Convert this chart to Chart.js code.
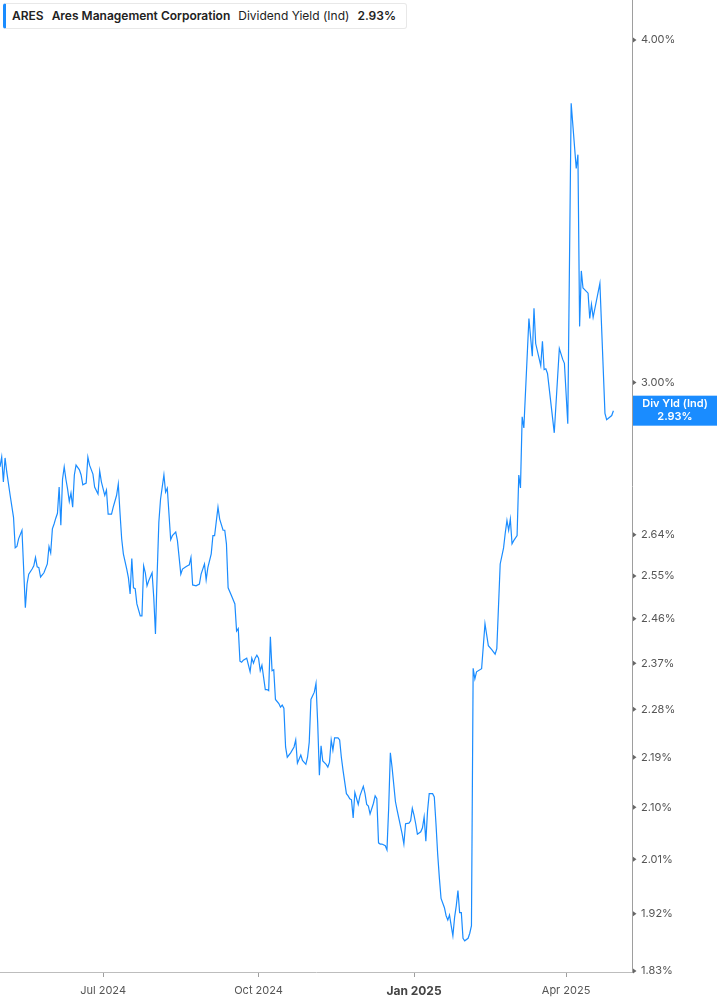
<!DOCTYPE html>
<html>
<head>
<meta charset="utf-8">
<script src="https://cdn.jsdelivr.net/npm/chart.js@4.4.1/dist/chart.umd.min.js"></script>
<style>
  html, body { margin: 0; padding: 0; background: #fff; }
  #wrap { position: relative; width: 717px; height: 1005px; }
  #head {
    position: absolute; left: 3px; top: 3px; height: 26px; width: 404px;
    box-sizing: border-box; border: 1px solid #e8e8e8; border-left: 3px solid #1a8cff;
    border-radius: 3px; background: #fff;
    font-family: Inter, "Noto Sans", sans-serif; font-size: 12px; color: #222;
    line-height: 24px; padding-left: 6px; white-space: nowrap;
  }
  #head span { margin-right: 8px; }
  #head b { font-weight: 600; }
</style>
</head>
<body>
<div id="wrap">
  <canvas id="chartDiv" width="717" height="1005"></canvas>
  <div id="head"><span><b>ARES</b></span><span><b>Ares Management Corporation</b></span><span>Dividend Yield (Ind)</span><span><b>2.93%</b></span></div>
</div>
<script>
// days since 2024-07-01
var dayOffsets = [-61,-60,-59,-58,-57,-55,-53,-52,-51,-50,-48,-46,-45,-44,-42,-41,-40,-39,-38,-37,-35,-33,-32,-31,-30,-29,-28,-27,-26,-25,-24,-23,-22,-21,-20,-19,-18,-17,-16,-14,-13,-12,-10,-9,-8,-6,-5,-3,-2,-1,
  1,2,3,5,6,8,9,10,11,12,14,15,16,17,18,19,20,22,23,24,25,26,27,29,30,31,32,33,34,36,37,38,40,41,43,44,46,47,49,50,51,52,53,55,57,58,60,61,62,64,65,66,68,69,71,72,73,74,76,78,79,80,81,82,83,85,87,88,89,90,91,92,93,94,96,97,98,99,100,101,102,104,105,106,107,108,109,111,113,114,115,117,118,120,121,122,123,125,126,127,128,129,130,132,133,134,135,136,137,139,140,141,142,144,145,146,147,148,149,151,152,154,155,156,157,158,160,161,162,163,164,165,167,168,169,170,171,173,174,175,177,178,179,181,182,183,184,185,186,188,189,190,191,192,193,195,196,197,198,199,200,202,203,204,205,206,207,208,209,210,211,212,213,214,216,217,218,
  219,220,221,224,226,228,230,232,233,235,237,238,239,240,241,242,243,245,246,247,248,249,252,254,255,256,259,260,261,262,263,267,270,272,273,275,277,280,281,282,283,284,287,288,289,290,294,297,298,301,302];

// dividend yield, %
var divYield = [2.795,2.818,2.760,2.816,2.783,2.729,2.679,2.611,2.614,2.631,2.650,2.483,2.533,2.554,2.565,2.572,2.590,2.570,2.568,2.548,2.557,2.576,2.614,2.600,2.653,2.664,2.677,2.688,2.748,2.661,2.766,2.795,2.766,2.743,2.715,2.734,2.702,2.776,2.799,2.788,2.776,2.753,2.757,2.818,2.799,2.778,2.748,2.732,2.785,2.760,
  2.729,2.741,2.686,2.686,2.702,2.729,2.755,2.690,2.631,2.598,2.565,2.546,2.512,2.588,2.525,2.523,2.491,2.466,2.466,2.572,2.557,2.529,2.540,2.557,2.504,2.429,2.554,2.668,2.720,2.776,2.736,2.745,2.629,2.638,2.646,2.627,2.554,2.565,2.570,2.572,2.574,2.590,2.531,2.529,2.533,2.554,2.576,2.542,2.568,2.598,2.638,2.638,2.702,2.675,2.650,2.650,2.620,2.525,2.508,2.491,2.435,2.440,2.374,2.372,2.376,2.380,2.353,2.380,2.370,2.380,2.386,2.380,2.355,2.366,2.318,2.318,2.316,2.423,2.355,2.357,2.299,2.291,2.284,2.288,2.282,2.209,2.190,2.198,2.209,2.222,2.179,2.194,2.184,2.177,2.190,2.218,2.299,2.313,2.330,2.254,2.157,2.211,2.183,2.177,2.172,2.181,2.222,2.203,2.226,2.226,2.222,2.190,2.166,2.124,2.120,2.115,2.113,2.081,2.126,2.105,2.120,2.137,2.124,2.105,2.102,2.088,2.107,2.120,2.115,2.038,2.036,2.036,2.033,2.026,2.098,2.198,2.172,2.110,2.095,2.081,2.053,2.036,2.071,2.072,2.076,2.098,2.086,2.071,2.053,2.057,2.064,2.083,2.041,2.093,2.124,2.124,2.118,2.071,2.019,1.979,1.945,1.930,1.917,1.910,1.918,1.901,1.885,1.914,1.933,1.958,1.922,1.922,1.881,1.877,1.881,1.889,1.901,
  2.360,2.339,2.353,2.359,2.450,2.405,2.397,2.388,2.399,2.576,2.611,2.644,2.672,2.650,2.675,2.620,2.627,2.638,2.776,2.746,2.915,2.888,3.166,3.067,3.193,3.100,3.043,3.106,3.033,3.035,3.023,2.876,3.087,3.059,3.049,2.898,3.793,3.591,3.633,3.145,3.295,3.248,3.234,3.166,3.204,3.169,3.261,2.923,2.908,2.918,2.930];

var monthDays = [0, 92, 184, 274];
var monthLabels = ["Jul 2024", "Oct 2024", "Jan 2025", "Apr 2025"];
var yTicks = [1.83, 1.92, 2.01, 2.10, 2.19, 2.28, 2.37, 2.46, 2.55, 2.64, 3.00, 4.00];
var lastLabel = "Div Yld (Ind)";
var lineColor = "#1a8cff";

var points = [];
for (var i = 0; i < dayOffsets.length; i++) {
  points.push({ x: dayOffsets[i], y: divYield[i] });
}

// little arrow marks on the right axis + the last value box
var axisExtras = {
  id: "axisExtras",
  afterDraw: function (chart) {
    var ctx = chart.ctx;
    var ys = chart.scales.y;
    var area = chart.chartArea;
    ctx.save();
    ctx.fillStyle = "#666";
    ys.ticks.forEach(function (t) {
      var py = ys.getPixelForValue(t.value);
      ctx.beginPath();
      ctx.moveTo(area.right + 1, py - 2.5);
      ctx.lineTo(area.right + 4.5, py);
      ctx.lineTo(area.right + 1, py + 2.5);
      ctx.closePath();
      ctx.fill();
    });
    var last = divYield[divYield.length - 1];
    var py = ys.getPixelForValue(last);
    ctx.fillStyle = lineColor;
    ctx.fillRect(area.right + 1, py - 15, chart.width - area.right - 1, 30);
    ctx.fillStyle = "#fff";
    ctx.font = "600 11px Inter, 'Noto Sans', sans-serif";
    ctx.textAlign = "center";
    ctx.textBaseline = "middle";
    var cx = (area.right + 1 + chart.width) / 2;
    ctx.fillText(lastLabel, cx, py - 6.5);
    ctx.fillText(last.toFixed(2) + "%", cx, py + 6.5);
    ctx.restore();
  }
};

var chart = new Chart(document.getElementById("chartDiv"), {
  type: "line",
  data: {
    datasets: [{
      data: points,
      borderColor: lineColor,
      borderWidth: 1.2,
      pointRadius: 0,
      tension: 0,
      fill: false
    }]
  },
  options: {
    responsive: false,
    animation: false,
    layout: { padding: 0 },
    plugins: { legend: { display: false }, tooltip: { enabled: false } },
    scales: {
      x: {
        type: "linear",
        position: "bottom",
        min: -61,
        max: 313,
        afterBuildTicks: function (scale) {
          scale.ticks = monthDays.map(function (d) { return { value: d }; });
        },
        afterFit: function (scale) {
          scale.height = 33;
          scale.paddingLeft = 0;
          scale.paddingRight = 0;
        },
        ticks: {
          autoSkip: false,
          maxRotation: 0,
          padding: 7,
          color: function (c) { return c.index === 2 ? "#444" : "#555"; },
          font: function (c) {
            return c.index === 2
              ? { family: "Inter, 'Noto Sans', sans-serif", size: 12, weight: "bold" }
              : { family: "Inter, 'Noto Sans', sans-serif", size: 11 };
          },
          callback: function (v, idx) { return monthLabels[idx]; }
        },
        grid: { drawOnChartArea: false, tickLength: 5, color: "#9e9e9e" },
        border: { display: true, color: "#bdbdbd", width: 1 }
      },
      y: {
        type: "logarithmic",
        position: "right",
        min: 1.8285,
        max: 4.137,
        afterBuildTicks: function (scale) {
          scale.ticks = yTicks.map(function (v) { return { value: v }; });
        },
        afterFit: function (scale) {
          scale.width = 85;
          scale.paddingTop = 0;
          scale.paddingBottom = 0;
        },
        ticks: {
          padding: 9,
          color: "#555",
          font: { family: "Inter, 'Noto Sans', sans-serif", size: 11 },
          callback: function (v) { return Number(v).toFixed(2) + "%"; }
        },
        grid: { drawOnChartArea: false, drawTicks: false },
        border: { display: true, color: "#9e9e9e", width: 1 }
      }
    }
  },
  plugins: [axisExtras]
});
</script>
</body>
</html>
